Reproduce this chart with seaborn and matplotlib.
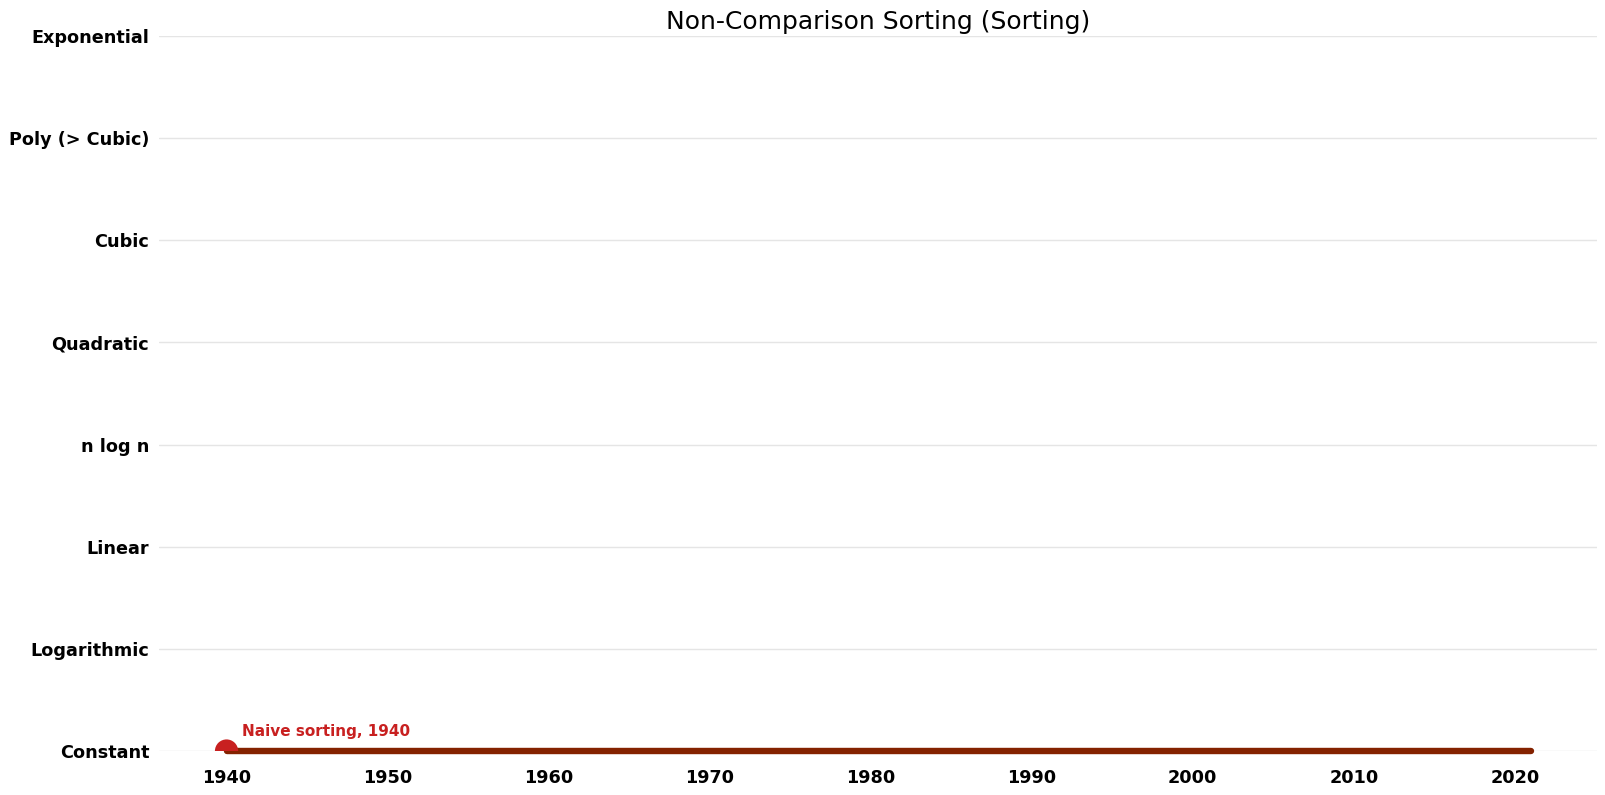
import matplotlib
matplotlib.use("Agg")
import matplotlib.pyplot as plt
import seaborn as sns
import pandas as pd

categories = ["Constant", "Logarithmic", "Linear", "n log n", "Quadratic",
              "Cubic", "Poly (> Cubic)", "Exponential"]
line_years = [1940, 2021]
line_levels = [0, 0]
point_years = [1940]
point_levels = [0]
point_labels = ["Naive sorting, 1940"]
xticks = [1940, 1950, 1960, 1970, 1980, 1990, 2000, 2010, 2020]

sns.set_theme(style="white")
plt.rcParams['font.family'] = ['DejaVu Sans']
plt.rcParams['text.color'] = 'black'
plt.rcParams['xtick.color'] = 'black'
plt.rcParams['ytick.color'] = 'black'

fig = plt.figure(figsize=(16.05, 7.95), dpi=100)
ax = fig.add_axes([0.099, 0.0553, 0.896, 0.8994])

line_df = pd.DataFrame({"year": line_years, "level": line_levels})
pt_df = pd.DataFrame({"year": point_years, "level": point_levels})

for y in range(len(categories)):
    ax.axhline(y, color="#e5e5e5", linewidth=1, zorder=0)

sns.lineplot(data=line_df, x="year", y="level", ax=ax, color="#842200",
             linewidth=4.6, solid_capstyle="round", zorder=1, clip_on=False)
sns.scatterplot(data=pt_df, x="year", y="level", ax=ax, color="#c82020",
                s=280, edgecolor="none", zorder=5)
for x, y, t in zip(point_years, point_levels, point_labels):
    ax.annotate(t, (x, y), xytext=(11, 11), textcoords="offset points",
                color="#c82020", fontsize=11, fontweight="bold")

ax.set_xlim(1935.8, 2025.1)
ax.set_ylim(0, len(categories) - 1)
ax.set_yticks(range(len(categories)))
ax.set_yticklabels(categories, fontsize=12.7, fontweight="bold")
ax.set_xticks(xticks)
ax.set_xticklabels([str(v) for v in xticks], fontsize=12.7, fontweight="bold")
ax.set_xlabel("")
ax.set_ylabel("")
ax.tick_params(axis="x", length=0, pad=13)
ax.tick_params(axis="y", length=0, pad=7)
for s in ax.spines.values():
    s.set_visible(False)
ax.set_title("Non-Comparison Sorting (Sorting)", fontsize=18, color="black", pad=5)

fig.savefig("out.png", dpi=100)
